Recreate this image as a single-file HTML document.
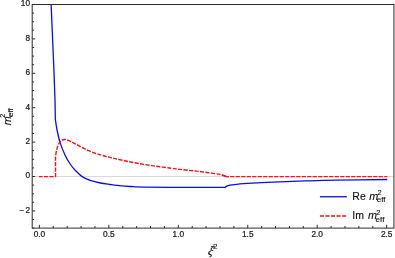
<!DOCTYPE html>
<html><head><meta charset="utf-8"><style>
html,body{margin:0;padding:0;background:#fff;}
svg{display:block;font-family:"Liberation Sans",sans-serif;will-change:transform;opacity:0.9999;}
</style></head><body>
<svg width="395" height="258" viewBox="0 0 395 258">
<rect width="395" height="258" fill="#fff"/>
<line x1="32.2" y1="176.5" x2="393.95" y2="176.5" stroke="#c8c8c8" stroke-width="0.7"/>
<path d="M51.10 4.50 C51.53 14.58 53.05 49.08 53.70 65.00 C54.35 80.92 54.73 91.00 55.00 100.00 C55.27 109.00 55.25 115.83 55.30 119.00 L55.30 119.00 C55.59 120.83 56.25 126.07 57.05 130.00 C57.85 133.93 58.76 138.40 60.10 142.60 C61.44 146.80 63.42 151.63 65.10 155.20 C66.78 158.77 68.52 161.48 70.20 164.00 C71.88 166.52 73.20 168.20 75.20 170.30 C77.20 172.40 79.68 174.92 82.20 176.60 C84.72 178.28 87.27 179.33 90.30 180.40 C93.33 181.47 97.12 182.32 100.40 183.00 C103.68 183.68 107.22 184.10 110.00 184.50 C112.78 184.90 113.67 185.07 117.10 185.40 C120.53 185.73 126.08 186.22 130.60 186.50 C135.12 186.78 134.30 186.95 144.20 187.10 C154.10 187.25 176.50 187.34 190.00 187.40 C203.50 187.46 219.33 187.44 225.20 187.45 L225.20 187.45 C225.53 187.19 225.70 186.38 227.20 185.90 C228.70 185.43 230.78 185.02 234.20 184.60 C237.62 184.18 243.18 183.72 247.70 183.40 C252.22 183.08 255.92 182.95 261.30 182.70 C266.68 182.45 272.65 182.19 280.00 181.90 C287.35 181.61 296.10 181.24 305.40 180.95 C314.70 180.66 322.17 180.39 335.80 180.15 C349.43 179.91 378.63 179.61 387.20 179.50" fill="none" stroke="#0a0aff" stroke-width="1.3" stroke-linejoin="round"/>
<path d="M38.90 176.60 L55.50 176.60 L55.50 157.00 L55.50 157.00 C55.67 155.92 56.08 152.42 56.50 150.50 C56.92 148.58 57.37 146.95 58.00 145.50 C58.63 144.05 59.25 142.80 60.30 141.80 C61.35 140.80 62.85 139.68 64.30 139.50 C65.75 139.32 67.18 139.98 69.00 140.70 C70.82 141.42 72.07 142.18 75.20 143.80 C78.33 145.42 83.60 148.57 87.80 150.40 C92.00 152.23 96.70 153.63 100.40 154.80 C104.10 155.97 107.22 156.68 110.00 157.40 C112.78 158.12 113.67 158.33 117.10 159.10 C120.53 159.87 126.08 161.12 130.60 162.00 C135.12 162.88 139.68 163.65 144.20 164.40 C148.72 165.15 153.18 165.87 157.70 166.50 C162.22 167.13 167.58 167.72 171.30 168.20 C175.02 168.68 176.30 168.97 180.00 169.40 C183.70 169.83 188.98 170.28 193.50 170.80 C198.02 171.32 202.58 171.87 207.10 172.50 C211.62 173.13 217.37 173.92 220.60 174.60 C223.83 175.28 225.52 176.27 226.50 176.60" fill="none" stroke="#ff1010" stroke-width="1.4" stroke-dasharray="4.2 1.3" stroke-dashoffset="0.5" stroke-linejoin="round"/>
<path d="M221.8 175.0 L226.5 176.6 L228.5 176.6" fill="none" stroke="#ff1010" stroke-width="1.4" stroke-linejoin="round"/>
<path d="M226.50 176.60 L387.30 176.60" fill="none" stroke="#ff1010" stroke-width="1.4" stroke-dasharray="4.2 1.3" stroke-dashoffset="1.8"/>
<rect x="32.2" y="4.5" width="361.75" height="223.6" fill="none" stroke="#2c2c2c" stroke-width="1"/>
<g stroke="#2c2c2c" stroke-width="1"><line x1="39.40" y1="228.10" x2="39.40" y2="224.80"/><line x1="53.29" y1="228.10" x2="53.29" y2="226.00"/><line x1="67.18" y1="228.10" x2="67.18" y2="226.00"/><line x1="81.07" y1="228.10" x2="81.07" y2="226.00"/><line x1="94.96" y1="228.10" x2="94.96" y2="226.00"/><line x1="108.85" y1="228.10" x2="108.85" y2="224.80"/><line x1="122.74" y1="228.10" x2="122.74" y2="226.00"/><line x1="136.63" y1="228.10" x2="136.63" y2="226.00"/><line x1="150.52" y1="228.10" x2="150.52" y2="226.00"/><line x1="164.41" y1="228.10" x2="164.41" y2="226.00"/><line x1="178.30" y1="228.10" x2="178.30" y2="224.80"/><line x1="192.19" y1="228.10" x2="192.19" y2="226.00"/><line x1="206.08" y1="228.10" x2="206.08" y2="226.00"/><line x1="219.97" y1="228.10" x2="219.97" y2="226.00"/><line x1="233.86" y1="228.10" x2="233.86" y2="226.00"/><line x1="247.75" y1="228.10" x2="247.75" y2="224.80"/><line x1="261.64" y1="228.10" x2="261.64" y2="226.00"/><line x1="275.53" y1="228.10" x2="275.53" y2="226.00"/><line x1="289.42" y1="228.10" x2="289.42" y2="226.00"/><line x1="303.31" y1="228.10" x2="303.31" y2="226.00"/><line x1="317.20" y1="228.10" x2="317.20" y2="224.80"/><line x1="331.09" y1="228.10" x2="331.09" y2="226.00"/><line x1="344.98" y1="228.10" x2="344.98" y2="226.00"/><line x1="358.87" y1="228.10" x2="358.87" y2="226.00"/><line x1="372.76" y1="228.10" x2="372.76" y2="226.00"/><line x1="386.65" y1="228.10" x2="386.65" y2="224.80"/><line x1="32.20" y1="228.10" x2="34.10" y2="228.10"/><line x1="32.20" y1="219.50" x2="34.10" y2="219.50"/><line x1="32.20" y1="210.90" x2="35.20" y2="210.90"/><line x1="32.20" y1="202.30" x2="34.10" y2="202.30"/><line x1="32.20" y1="193.70" x2="34.10" y2="193.70"/><line x1="32.20" y1="185.10" x2="34.10" y2="185.10"/><line x1="32.20" y1="176.50" x2="35.20" y2="176.50"/><line x1="32.20" y1="167.90" x2="34.10" y2="167.90"/><line x1="32.20" y1="159.30" x2="34.10" y2="159.30"/><line x1="32.20" y1="150.70" x2="34.10" y2="150.70"/><line x1="32.20" y1="142.10" x2="35.20" y2="142.10"/><line x1="32.20" y1="133.50" x2="34.10" y2="133.50"/><line x1="32.20" y1="124.90" x2="34.10" y2="124.90"/><line x1="32.20" y1="116.30" x2="34.10" y2="116.30"/><line x1="32.20" y1="107.70" x2="35.20" y2="107.70"/><line x1="32.20" y1="99.10" x2="34.10" y2="99.10"/><line x1="32.20" y1="90.50" x2="34.10" y2="90.50"/><line x1="32.20" y1="81.90" x2="34.10" y2="81.90"/><line x1="32.20" y1="73.30" x2="35.20" y2="73.30"/><line x1="32.20" y1="64.70" x2="34.10" y2="64.70"/><line x1="32.20" y1="56.10" x2="34.10" y2="56.10"/><line x1="32.20" y1="47.50" x2="34.10" y2="47.50"/><line x1="32.20" y1="38.90" x2="35.20" y2="38.90"/><line x1="32.20" y1="30.30" x2="34.10" y2="30.30"/><line x1="32.20" y1="21.70" x2="34.10" y2="21.70"/><line x1="32.20" y1="13.10" x2="34.10" y2="13.10"/><line x1="32.20" y1="4.50" x2="35.20" y2="4.50"/></g>
<g font-size="8.3" fill="#1a1a1a" stroke="#1a1a1a" stroke-width="0.22"><text x="39.40" y="236.5" text-anchor="middle">0.0</text><text x="108.85" y="236.5" text-anchor="middle">0.5</text><text x="178.30" y="236.5" text-anchor="middle">1.0</text><text x="247.75" y="236.5" text-anchor="middle">1.5</text><text x="317.20" y="236.5" text-anchor="middle">2.0</text><text x="386.65" y="236.5" text-anchor="middle">2.5</text><text x="30.1" y="212.80" text-anchor="end">2</text><text x="19.6" y="212.80">−</text><text x="30.1" y="178.40" text-anchor="end">0</text><text x="30.1" y="144.00" text-anchor="end">2</text><text x="30.1" y="109.60" text-anchor="end">4</text><text x="30.1" y="75.20" text-anchor="end">6</text><text x="30.1" y="40.80" text-anchor="end">8</text><text x="30.1" y="6.00" text-anchor="end">10</text></g>
<line x1="319.9" y1="196.75" x2="346.8" y2="196.75" stroke="#0a0aff" stroke-width="1.3"/>
<line x1="319.9" y1="216.0" x2="346.3" y2="216.0" stroke="#ff1010" stroke-width="1.4" stroke-dasharray="4.2 1.3"/>
<g fill="#111" font-size="10.5" stroke="#111" stroke-width="0.12">
<text x="352.3" y="199.8">Re</text><text x="369.2" y="199.8" font-style="italic" font-size="10.8">m</text>
<text x="377.4" y="195.0" font-size="7.4">2</text>
<text x="376.7" y="202.4" font-size="6.8" textLength="8.8" lengthAdjust="spacingAndGlyphs">eff</text>
<text x="352.3" y="218.9">Im</text><text x="367.9" y="218.9" font-style="italic" font-size="10.8">m</text>
<text x="376.3" y="214.6" font-size="7.4">2</text>
<text x="375.6" y="221.6" font-size="6.8" textLength="8.8" lengthAdjust="spacingAndGlyphs">eff</text>
<g transform="translate(10.6,125.35) rotate(-90)">
<text x="0" y="0" font-style="italic" font-size="10.8">m</text>
<text x="7.65" y="-6.0" font-size="7.4">2</text>
<text x="8.3" y="2.7" font-size="6.8" textLength="8.9" lengthAdjust="spacingAndGlyphs">eff</text>
</g>
<text transform="translate(207.3,254.5) skewX(-14)" font-style="italic" font-size="12.5" font-family="Liberation Serif, serif" stroke="#111" stroke-width="0.15">&#958;</text>
<text x="213.0" y="249.4" font-size="8">2</text>
</g>
</svg>
</body></html>
